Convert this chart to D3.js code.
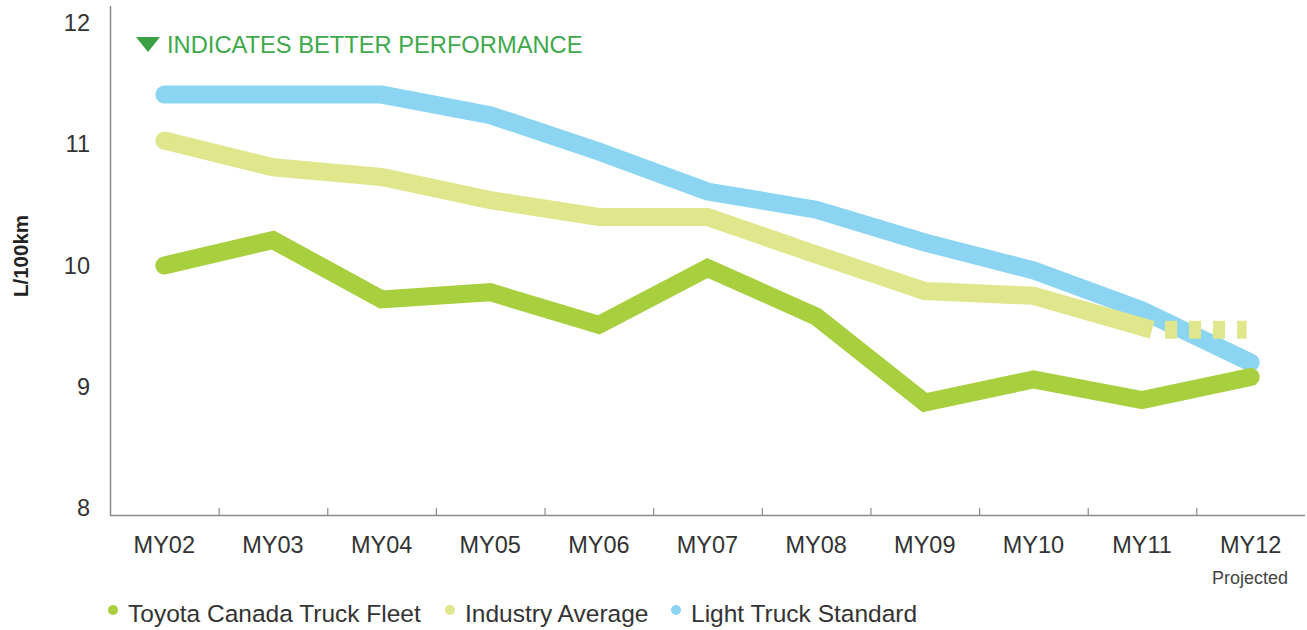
<!DOCTYPE html>
<html>
<head>
<meta charset="utf-8">
<script src="https://cdn.jsdelivr.net/npm/d3@7"></script>
<style>
  body { margin: 0; background: #fff; }
  svg text { font-family: "Liberation Sans", Arial, sans-serif; }
</style>
</head>
<body>
<div id="chart"></div>
<script>
const years = ['MY02', 'MY03', 'MY04', 'MY05', 'MY06', 'MY07', 'MY08', 'MY09', 'MY10', 'MY11', 'MY12'];
const toyotaFleet = [10.0, 10.21, 9.72, 9.78, 9.51, 9.98, 9.58, 8.87, 9.06, 8.89, 9.08];
const industryAvg = [11.03, 10.81, 10.73, 10.54, 10.40, 10.40, 10.09, 9.79, 9.75, 9.47];
const industryProjected = [null, null, null, null, null, null, null, null, null, 9.47, 9.47];
const lightTruckStd = [11.41, 11.41, 11.41, 11.24, 10.94, 10.61, 10.46, 10.19, 9.96, 9.63, 9.20];
const yTicks = [8, 9, 10, 11, 12];

const legendItems = [
  { name: 'Toyota Canada Truck Fleet', color: '#a8cf3e' },
  { name: 'Industry Average', color: '#e0e68b' },
  { name: 'Light Truck Standard', color: '#8bd5f3' },
];

const W = 1307, H = 630;
const svg = d3.select('#chart').append('svg').attr('width', W).attr('height', H);

const x = d3.scaleBand().domain(years).range([110, 1305]);
const y = d3.scaleLinear().domain([8, 12]).range([508, 23]);
const cx = (d) => x(d) + x.bandwidth() / 2;

// axes
svg.append('line').attr('x1', 110.5).attr('x2', 110.5).attr('y1', 6).attr('y2', 515)
  .attr('stroke', '#8a8a8a').attr('stroke-width', 1.5);
svg.append('line').attr('x1', 110).attr('x2', 1305).attr('y1', 515.5).attr('y2', 515.5)
  .attr('stroke', '#8a8a8a').attr('stroke-width', 1.5);

// tick marks between bands
svg.append('g').selectAll('line')
  .data(years.slice(1))
  .join('line')
  .attr('x1', (d) => x(d) + 0.5).attr('x2', (d) => x(d) + 0.5)
  .attr('y1', 508).attr('y2', 515)
  .attr('stroke', '#8a8a8a').attr('stroke-width', 1.2);

svg.append('g').selectAll('text')
  .data(yTicks)
  .join('text')
  .attr('x', 90).attr('y', (d) => y(d)).attr('dy', '0.35em')
  .attr('text-anchor', 'end')
  .attr('font-size', 23.5).attr('fill', '#333')
  .text((d) => d);

svg.append('g').selectAll('text')
  .data(years)
  .join('text')
  .attr('x', cx).attr('y', 553)
  .attr('text-anchor', 'middle')
  .attr('font-size', 23.5).attr('fill', '#333')
  .text((d) => d);

svg.append('text').attr('x', 1250).attr('y', 584)
  .attr('text-anchor', 'middle').attr('font-size', 18).attr('fill', '#444')
  .text('Projected');

svg.append('text')
  .attr('transform', 'translate(28,256) rotate(-90)')
  .attr('text-anchor', 'middle').attr('font-size', 20.5).attr('font-weight', 700).attr('fill', '#222')
  .text('L/100km');

// header note
svg.append('path').attr('d', 'M136,37 L160,37 L148,52 Z').attr('fill', '#3a9f45');
svg.append('text').attr('x', 167).attr('y', 53)
  .attr('font-size', 23.7).attr('fill', '#3ea84a')
  .text('INDICATES BETTER PERFORMANCE');

// lines
const line = d3.line()
  .defined((d) => d != null)
  .x((d, i) => cx(years[i]))
  .y((d) => y(d));

function drawLine(values, color) {
  return svg.append('path').datum(values)
    .attr('d', line)
    .attr('fill', 'none')
    .attr('stroke', color)
    .attr('stroke-width', 18)
    .attr('stroke-linejoin', 'miter')
    .attr('stroke-linecap', 'round');
}

drawLine(lightTruckStd, legendItems[2].color);

// industry average: solid to MY11 (square end), then dashed projection
const lastI = industryAvg.length - 1;
svg.append('path').datum(industryAvg)
  .attr('d', d3.line()
    .x((d, i) => cx(years[i]) + (i === lastI ? 10 : 0))
    .y((d) => y(d)))
  .attr('fill', 'none')
  .attr('stroke', legendItems[1].color)
  .attr('stroke-width', 18)
  .attr('stroke-linejoin', 'miter');
svg.append('circle').attr('cx', cx(years[0])).attr('cy', y(industryAvg[0])).attr('r', 9)
  .attr('fill', legendItems[1].color);
svg.append('path').datum(industryProjected)
  .attr('d', d3.line().defined((d) => d != null)
    .x((d, i) => cx(years[i]) + (i === lastI ? 23 : -4))
    .y((d) => y(d)))
  .attr('fill', 'none')
  .attr('stroke', legendItems[1].color)
  .attr('stroke-width', 18)
  .attr('stroke-dasharray', '12 12');

drawLine(toyotaFleet, legendItems[0].color);

// legend
const legendX = [113, 450, 676];
const lg = svg.append('g').selectAll('g')
  .data(legendItems)
  .join('g')
  .attr('transform', (d, i) => `translate(${legendX[i]},0)`);
lg.append('circle').attr('cy', 610).attr('r', 5).attr('fill', (d) => d.color);
lg.append('text').attr('x', 15).attr('y', 622)
  .attr('font-size', 24.5).attr('fill', '#333')
  .text((d) => d.name);
</script>
</body>
</html>
